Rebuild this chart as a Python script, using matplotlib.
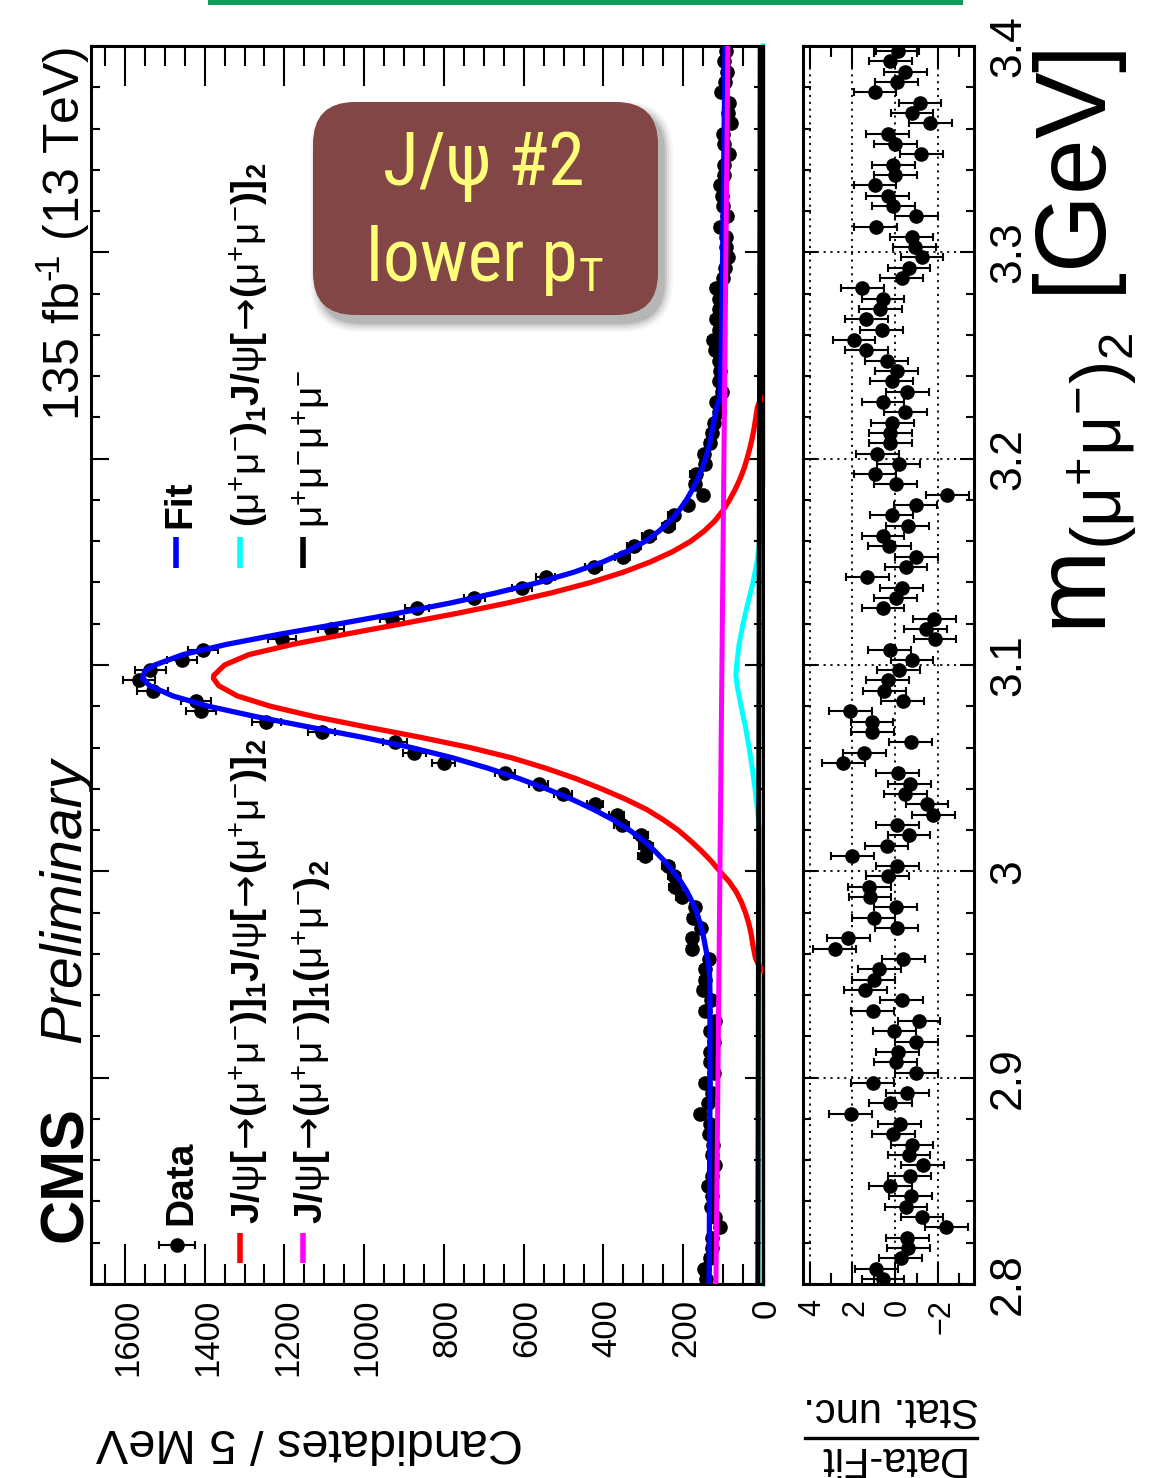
import numpy as np
import matplotlib
matplotlib.use("Agg")
import matplotlib.pyplot as plt
import matplotlib.transforms as mtransforms
from matplotlib import font_manager
from matplotlib.font_manager import FontProperties
from matplotlib.patches import FancyBboxPatch, Rectangle
from matplotlib.lines import Line2D
from matplotlib.ticker import MultipleLocator

# ---------------------------------------------------------------- fonts
plt.rcParams['font.family'] = ['Liberation Sans', 'DejaVu Sans']
plt.rcParams['mathtext.fontset'] = 'custom'
plt.rcParams['mathtext.rm'] = 'Liberation Sans'
plt.rcParams['mathtext.it'] = 'Liberation Sans:italic'
plt.rcParams['mathtext.bf'] = 'Liberation Sans:bold'
plt.rcParams['mathtext.sf'] = 'DejaVu Sans'   # long thin arrows in the legend
plt.rcParams['mathtext.default'] = 'regular'

# ---------------------------------------------------------------- data
mass_lo, mass_hi, bin_width = 2.8, 3.4, 0.005

# candidates per 5 MeV bin, 2.800 -> 3.400 GeV
counts = np.array([
    144, 147, 134, 129, 129, 108, 121, 130, 127, 138,
    127, 120, 128, 125, 135, 132, 158, 137, 127, 145,
    122, 133, 132, 122, 134, 120, 145, 130, 150, 146,
    145, 135, 178, 177, 155, 175, 171, 203, 220, 224,
    238, 296, 293, 306, 354, 367, 422, 501, 562, 647,
    801, 874, 923, 1107, 1245, 1410, 1422, 1530, 1564, 1536,
    1457, 1405, 1206, 1084, 930, 867, 724, 605, 545, 425,
    352, 323, 286, 237, 224, 188, 151, 170, 169, 145,
    149, 134, 129, 123, 111, 117, 104, 111, 107, 111,
    120, 126, 111, 119, 111, 110, 119, 100, 96, 89,
    92, 93, 109, 90, 101, 102, 108, 99, 99, 86,
    98, 101, 81, 89, 86, 105, 95, 91, 97, 94])

# (data - fit) / stat. unc. per bin
pulls = np.array([
    0.57, 0.89, -0.26, -0.61, -0.56, -2.38, -1.25, -0.50, -0.73, 0.23,
    -0.68, -1.28, -0.64, -0.78, 0.10, -0.21, 2.08, 0.23, -0.56, 1.06,
    -0.99, -0.03, -0.12, -0.99, 0.05, -1.11, 1.06, -0.30, 1.39, 1.00,
    0.75, -0.38, 2.83, 2.19, -0.07, 1.00, -0.03, 1.18, 1.22, 0.35,
    -0.09, 2.00, 0.40, -0.64, -0.09, -1.77, -1.48, -0.47, -0.68, -0.12,
    2.43, 1.44, -0.73, 1.08, 1.09, 2.10, -0.35, 0.52, 0.36, -0.16,
    -0.78, 0.26, -1.86, -1.42, -1.82, 0.57, -0.03, -0.30, 1.30, -0.50,
    -0.99, 0.28, 0.57, -0.59, 0.17, -0.95, -2.43, -0.03, 0.95, -0.17,
    0.83, 0.23, 0.23, 0.14, -0.47, 0.57, -0.56, 0.17, -0.07, 0.40,
    1.35, 1.93, 0.63, 1.35, 0.69, 0.57, 1.53, -0.30, -0.64, -1.25,
    -0.90, -0.76, 0.92, -0.99, 0.09, 0.35, 0.95, 0.00, 0.10, -1.22,
    0.00, 0.35, -1.63, -0.78, -1.16, 0.95, -0.07, -0.47, 0.23, -0.12])

# total fit
fit_mass = [2.800, 2.850, 2.900, 2.940, 2.950, 2.955, 2.960, 2.965, 2.970, 2.975,
            2.980, 2.985, 2.990, 2.995, 3.000, 3.005, 3.010, 3.015, 3.020, 3.025,
            3.030, 3.035, 3.040, 3.045, 3.050, 3.055, 3.060, 3.065, 3.070, 3.075,
            3.080, 3.085, 3.090, 3.0935, 3.097, 3.100, 3.105, 3.110, 3.115, 3.120,
            3.125, 3.130, 3.135, 3.140, 3.145, 3.150, 3.155, 3.160, 3.165, 3.170,
            3.175, 3.180, 3.185, 3.190, 3.195, 3.200, 3.205, 3.210, 3.215, 3.220,
            3.225, 3.230, 3.250, 3.300, 3.350, 3.400]
fit_vals = [135, 134, 133, 133, 134, 137, 141, 146, 151, 158,
            166, 177, 190, 206, 226, 247, 272, 300, 335, 376,
            425, 480, 543, 612, 690, 778, 882, 1005, 1140, 1272,
            1390, 1480, 1538, 1556, 1550, 1525, 1455, 1345, 1210, 1062,
            918, 785, 668, 563, 474, 401, 342, 295, 260, 232,
            210, 192, 177, 164, 153, 144, 137, 131, 126, 121,
            116, 108, 105, 101, 98, 95]

# J/psi J/psi component
sig_mass = [2.952, 2.955, 2.958, 2.962, 2.965, 2.970, 2.975, 2.980, 2.985, 2.990,
            2.995, 3.000, 3.005, 3.010, 3.015, 3.020, 3.025, 3.030, 3.035, 3.040,
            3.045, 3.050, 3.055, 3.060, 3.065, 3.070, 3.075, 3.080, 3.085, 3.090,
            3.0935, 3.095, 3.100, 3.105, 3.110, 3.115, 3.120, 3.125, 3.130, 3.135,
            3.140, 3.145, 3.150, 3.155, 3.160, 3.165, 3.170, 3.175, 3.180, 3.185,
            3.190, 3.195, 3.200, 3.205, 3.210, 3.215, 3.220, 3.225, 3.228, 3.2295]
sig_vals = [0, 12, 19, 23, 26, 30, 36, 44, 54, 67,
            85, 108, 130, 155, 183, 213, 250, 292, 345, 405,
            470, 545, 630, 735, 860, 995, 1125, 1235, 1318, 1365,
            1378, 1377, 1350, 1290, 1180, 1045, 905, 768, 642, 530,
            432, 350, 282, 226, 181, 147, 120, 100, 84, 70,
            58, 48, 40, 33, 27, 22, 18, 14, 8, 0]

# J/psi + non-resonant (mu+mu-)_2 component
bkg_mass = [2.8, 3.4]
bkg_vals = [118, 88]

# non-resonant (mu+mu-)_1 + J/psi component
cross_mass = [2.80, 2.99, 3.00, 3.01, 3.02, 3.03, 3.04, 3.05, 3.06, 3.07,
              3.08, 3.09, 3.095, 3.10, 3.11, 3.12, 3.13, 3.14, 3.15, 3.16,
              3.17, 3.18, 3.19, 3.40]
cross_vals = [0, 0, 2, 5, 9, 14, 20, 27, 35, 44,
              55, 65, 68, 66, 60, 50, 38, 25, 15, 8,
              4, 2, 0, 0]

# four-muon continuum
nonres_mass = [2.8, 3.4]
nonres_vals = [13, 7]

count_ticks = [0, 200, 400, 600, 800, 1000, 1200, 1400, 1600]
mass_ticks = [2.8, 2.9, 3.0, 3.1, 3.2, 3.3, 3.4]
mass_tick_labels = ["2.8", "2.9", "3", "3.1", "3.2", "3.3", "3.4"]
pull_ticks = [4, 2, 0, -2]
pull_tick_labels = ["4", "2", "0", "\u22122"]

# ---------------------------------------------------------------- layout
W, H = 1163, 1478
fig = plt.figure(figsize=(W / 100, H / 100), dpi=100, facecolor='white')


def fx(x):
    return x / W


def fy(y):
    return 1 - y / H


ax = fig.add_axes([fx(91), fy(1284), fx(763) - fx(91), fy(46) - fy(1284)])
axr = fig.add_axes([fx(803), fy(1284), fx(974) - fx(803), fy(46) - fy(1284)])
ov = fig.add_axes([0, 0, 1, 1], zorder=10)
ov.set_xlim(0, W)
ov.set_ylim(H, 0)
ov.axis('off')
ov.patch.set_alpha(0)

centers = mass_lo + bin_width * (np.arange(len(counts)) + 0.5)

# ---------------------------------------------------------------- main panel
ax.set_xlim(1685, 0)
ax.set_ylim(mass_lo, mass_hi)
ax.errorbar(counts, centers, xerr=np.sqrt(counts), fmt='o', color='black',
            ms=9.5, elinewidth=1.5, capsize=3, capthick=1.5, zorder=3)
ax.plot(fit_vals, fit_mass, color='#0000ff', lw=3.8, zorder=4)
ax.plot(sig_vals, sig_mass, color='#ff0000', lw=3.8, zorder=5)
ax.plot(bkg_vals, bkg_mass, color='#ff00ff', lw=3.6, zorder=6)
ax.plot(nonres_vals, nonres_mass, color='black', lw=3.6, zorder=6)
ax.plot(cross_vals, cross_mass, color='#00ffff', lw=3.6, zorder=2.4, clip_on=False)

ax.xaxis.set_major_locator(MultipleLocator(200))
ax.xaxis.set_minor_locator(MultipleLocator(50))
ax.yaxis.set_major_locator(MultipleLocator(0.1))
ax.yaxis.set_minor_locator(MultipleLocator(0.02))
ax.tick_params(which='both', direction='in', top=True, bottom=True, left=True,
               right=True, labelbottom=False, labelleft=False, width=1.5)
ax.tick_params(axis='x', which='major', length=28.8)
ax.tick_params(axis='x', which='minor', length=14.4)
ax.tick_params(axis='y', which='major', length=13)
ax.tick_params(axis='y', which='minor', length=6.5)
for s in ax.spines.values():
    s.set_linewidth(2.2)

# ---------------------------------------------------------------- pull panel
axr.set_xlim(4.31, -3.68)
axr.set_ylim(mass_lo, mass_hi)
axr.errorbar(pulls, centers, xerr=1.0, fmt='o', color='black', ms=9.5,
             elinewidth=1.5, capsize=3, capthick=1.5, zorder=3)
axr.xaxis.set_major_locator(MultipleLocator(2))
axr.xaxis.set_minor_locator(MultipleLocator(1))
axr.yaxis.set_major_locator(MultipleLocator(0.1))
axr.yaxis.set_minor_locator(MultipleLocator(0.02))
axr.tick_params(which='both', direction='in', top=True, bottom=True, left=True,
                right=True, labelbottom=False, labelleft=False, width=1.5)
axr.tick_params(axis='x', which='major', length=16)
axr.tick_params(axis='x', which='minor', length=8)
axr.tick_params(axis='y', which='major', length=10)
axr.tick_params(axis='y', which='minor', length=5.5)
axr.grid(True, which='major', color='black', lw=1.3, linestyle=(0, (1.2, 2.6)))
for s in axr.spines.values():
    s.set_linewidth(2.2)

# ---------------------------------------------------------------- tick labels
tr_cnt = mtransforms.offset_copy(
    mtransforms.blended_transform_factory(ax.transData, ov.transData),
    fig=fig, x=12.5, y=0, units='dots')
for v in count_ticks:
    ov.text(v, 1299, str(v), transform=tr_cnt, rotation=90,
            rotation_mode='anchor', ha='right', va='baseline', fontsize=25)

tr_pull = mtransforms.offset_copy(
    mtransforms.blended_transform_factory(axr.transData, ov.transData),
    fig=fig, x=11, y=0, units='dots')
for v, lab in zip(pull_ticks, pull_tick_labels):
    ov.text(v, 1299, lab, transform=tr_pull, rotation=90,
            rotation_mode='anchor', ha='right', va='baseline', fontsize=22)

tr_mass = mtransforms.blended_transform_factory(ov.transData, ax.transData)
for v, lab in zip(mass_ticks, mass_tick_labels):
    ov.text(1020, v, lab, transform=tr_mass, rotation=90,
            rotation_mode='anchor', ha='center', va='baseline', fontsize=32)

# ---------------------------------------------------------------- axis titles
ov.text(523, 1429, "Candidates / 5 MeV", rotation=180, rotation_mode='anchor',
        ha='left', va='baseline', fontsize=35)
ov.text(891, 1398, "Stat. unc.", rotation=180, rotation_mode='anchor',
        ha='center', va='baseline', fontsize=30)
ov.text(890, 1447, "Data-Fit", rotation=180, rotation_mode='anchor',
        ha='center', va='baseline', fontsize=30)
ov.add_line(Line2D([805, 977], [1438, 1438], color='black', lw=2.4))

ov.text(1107, 50, r"m$_{(\mu^{+}\mu^{-})_{2}}$ [GeV]", rotation=90,
        rotation_mode='anchor', ha='right', va='baseline', fontsize=72)

# ---------------------------------------------------------------- header texts
ov.text(82, 1242, "CMS", rotation=90, rotation_mode='anchor', ha='left',
        va='baseline', fontsize=44, fontweight='bold')
ov.text(80, 1043, "Preliminary", rotation=90, rotation_mode='anchor',
        ha='left', va='baseline', fontsize=41, fontstyle='italic')
ov.text(80, 47, "135 fb$^{\u2010\\!1}$ (13 TeV)", rotation=90, rotation_mode='anchor',
        ha='right', va='baseline', fontsize=36)

# ---------------------------------------------------------------- legend
leg_fs = 28
jpsi_part = r"J/$\mathrm{\psi}$[$\!\mathsf{\rightarrow}\!$($\mathrm{\mu^{+}\mu^{-}})]_{%s}$"
mumu_part = r"($\mathrm{\mu^{+}\mu^{-}})_{%s}$"
lab_sig = jpsi_part % "1" + jpsi_part % "2"
lab_bkg = jpsi_part % "1" + mumu_part % "2"
lab_cross = mumu_part % "1" + jpsi_part % "2"
lab_4mu = r"$\mathrm{\mu^{+}\mu^{-}\mu^{+}\mu^{-}}$"

ov.errorbar([177], [1245], xerr=[[18], [18]], fmt='o', color='black', ms=9.5,
            elinewidth=1.5, capsize=3, capthick=1.5)
ov.text(191, 1225, "Data", rotation=90, rotation_mode='anchor', ha='left',
        va='baseline', fontsize=leg_fs, fontweight='bold')

legend_rows = [
    (240, 1233, 1263, '#ff0000', 260, 1224, lab_sig),
    (303, 1233, 1263, '#ff00ff', 323, 1224, lab_bkg),
    (176, 537, 568, '#0000ff', 190, 528, "Fit"),
    (240, 537, 568, '#00ffff', 260, 527, lab_cross),
    (303, 537, 568, 'black', 323, 528, lab_4mu),
]
for lx, ly0, ly1, col, tx, ty, lab in legend_rows:
    ov.add_line(Line2D([lx, lx], [ly0, ly1], color=col, lw=4.0,
                       solid_capstyle='butt'))
    ov.text(tx, ty, lab, rotation=90, rotation_mode='anchor', ha='left',
            va='baseline', fontsize=leg_fs, fontweight='bold')

# ---------------------------------------------------------------- banner box
ov.add_patch(Rectangle((208, 0), 755, 4.5, color='#109a5c', lw=0))

bx, by, bw, bh, rad = 313, 102, 345, 213, 42
for pad, a in [(9, 0.035), (7, 0.045), (5, 0.06), (3, 0.08), (1, 0.1)]:
    ov.add_patch(FancyBboxPatch((bx + 6 - pad, by + 8 - pad), bw + 2 * pad, bh + 2 * pad,
                                boxstyle=f"round,pad=0,rounding_size={rad + pad}",
                                fc='black', ec='none', alpha=a))
ov.add_patch(FancyBboxPatch((bx, by), bw, bh,
                            boxstyle=f"round,pad=0,rounding_size={rad}",
                            fc='#824646', ec='none'))

# narrow typeface for the banner, if one is installed
narrow_prefs = ['Liberation Sans Narrow', 'Roboto Condensed', 'Open Sans Condensed',
                'Noto Sans Condensed', 'DejaVu Sans Condensed', 'Noto Sans', 'Open Sans',
                'Roboto', 'DejaVu Sans']
narrow_file = None
for pref in narrow_prefs:
    for fe in font_manager.fontManager.ttflist:
        cond = ('condensed' in str(fe.stretch).lower() or 'narrow' in fe.name.lower()
                or 'condensed' in fe.name.lower())
        if fe.name == pref and cond and fe.style == 'normal' and fe.weight in (400, 'normal', 'regular'):
            narrow_file = fe.fname
            break
    if narrow_file:
        break
if narrow_file:
    fp_big = FontProperties(fname=narrow_file, size=53)
    fp_sub = FontProperties(fname=narrow_file, size=34)
else:
    fp_big = FontProperties(family='Liberation Sans', size=44)
    fp_sub = FontProperties(family='Liberation Sans', size=29)

yellow = '#ffff7a'
ov.text(484, 185, "J/\u03c8 #2", fontproperties=fp_big, color=yellow,
        ha='center', va='baseline')
renderer = fig.canvas.get_renderer()
t1 = ov.text(0, 281, "lower p", fontproperties=fp_big, color=yellow,
             ha='left', va='baseline')
t2 = ov.text(0, 291, "T", fontproperties=fp_sub, color=yellow,
             ha='left', va='baseline')
w1 = t1.get_window_extent(renderer).width
w2 = t2.get_window_extent(renderer).width
x0 = 484 - (w1 + w2) / 2
t1.set_x(x0)
t2.set_x(x0 + w1 + 1)

fig.savefig("out.png", dpi=100, facecolor='white')
